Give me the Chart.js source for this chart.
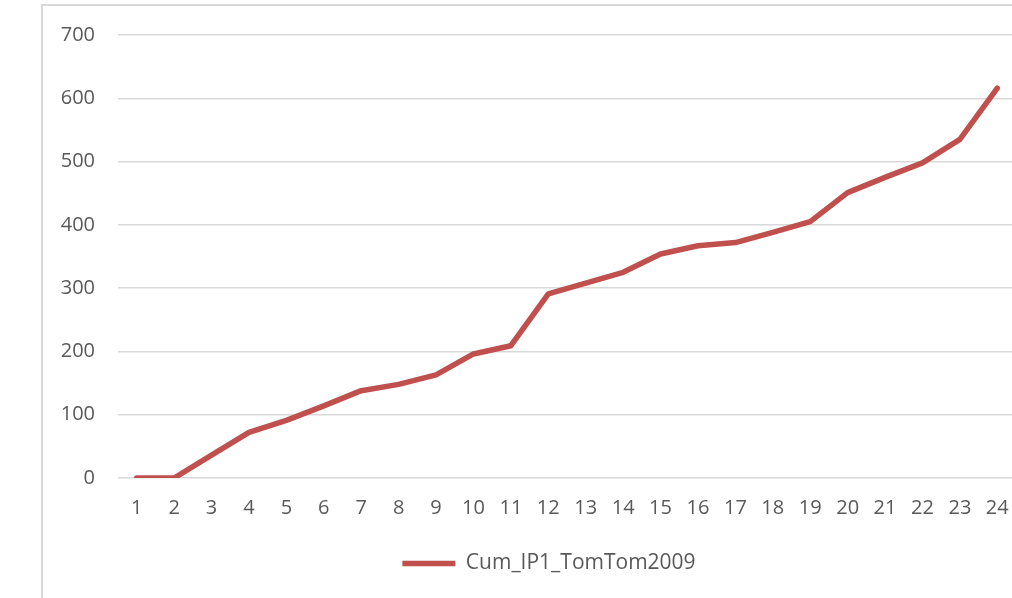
<!DOCTYPE html>
<html lang="en">
<head>
    <meta charset="UTF-8">
    <title>Cum_IP1_TomTom2009</title>
    <script src="https://cdn.jsdelivr.net/npm/chart.js"></script>
    <style>
        html, body { margin: 0; padding: 0; width: 1012px; height: 598px; overflow: hidden; background: #fff; }
        .frame { position: absolute; left: 41px; top: 4px; width: 1100px; height: 700px;
                 border-left: 2px solid #D9D9D9; border-top: 2px solid #D9D9D9; }
        .holder { position: absolute; left: 44px; top: 7px; width: 1010px; height: 591px; }
    </style>
</head>
<body>
    <div class="frame"></div>
    <div class="holder"><canvas id="cumChart"></canvas></div>

<script>
// x categories (hour / period index)
const periods = ['1','2','3','4','5','6','7','8','9','10','11','12',
                 '13','14','15','16','17','18','19','20','21','22','23','24'];
// cumulative values
const cumValues = [0, 0, 36, 72, 91, 114, 138, 148, 163, 196, 209, 291,
                   308, 325, 354, 367, 372, 388, 405, 451, 475, 498, 535, 616];
const seriesName = 'Cum_IP1_TomTom2009';
const yTicks = [0, 100, 200, 300, 400, 500, 600, 700];

const textColor = '#595959';
const gridColor = '#D9D9D9';
const lineColor = '#C0504D';

const ctx = document.getElementById('cumChart').getContext('2d');
new Chart(ctx, {
    type: 'line',
    data: {
        labels: periods,
        datasets: [{
            label: seriesName,
            data: cumValues,
            borderColor: lineColor,
            backgroundColor: lineColor,
            borderWidth: 5.5,
            borderCapStyle: 'round',
            borderJoinStyle: 'round',
            pointRadius: 0,
            pointStyle: 'line',
            tension: 0,
            fill: false,
            yAxisID: 'y'
        }]
    },
    options: {
        responsive: true,
        maintainAspectRatio: false,
        animation: false,
        layout: { padding: { top: 28, left: 0, right: 0, bottom: 14 } },
        plugins: {
            title: { display: false },
            tooltip: { enabled: false },
            legend: {
                display: true,
                position: 'bottom',
                labels: {
                    usePointStyle: true,
                    pointStyleWidth: 53,
                    color: textColor,
                    padding: 10,
                    font: { family: 'Open Sans', size: 21 }
                }
            }
        },
        scales: {
            x: {
                offset: true,
                grid: { display: false },
                border: { display: false },
                ticks: {
                    color: textColor,
                    padding: 10,
                    maxRotation: 0,
                    autoSkip: false,
                    font: { family: 'Open Sans', size: 20 }
                },
                afterFit: s => { s.height = 65; }
            },
            y: {
                position: 'left',
                min: 0,
                max: 700,
                afterBuildTicks: s => { s.ticks = yTicks.map(v => ({ value: v })); },
                // invisible tick marks give the gap between labels and plot
                grid: { color: gridColor, lineWidth: 1.5, drawTicks: true, tickLength: 23, tickColor: 'rgba(0,0,0,0)' },
                border: { display: false },
                ticks: {
                    color: textColor,
                    padding: 0,
                    font: { family: 'Open Sans', size: 20 }
                },
                afterFit: s => { s.width = 74; }
            },
            // empty right axis, only reserves the space that runs past the picture edge
            yRight: {
                position: 'right',
                display: true,
                grid: { display: false, drawTicks: false },
                border: { display: false },
                ticks: { display: false },
                afterFit: s => { s.width = 38; }
            }
        }
    }
});
</script>
</body>
</html>
